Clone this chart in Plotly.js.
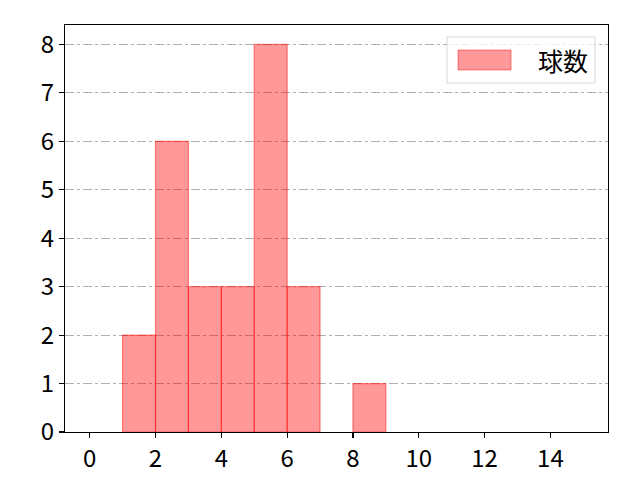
<!DOCTYPE html>
<html>
<head>
<meta charset="utf-8">
<script src="https://cdn.plot.ly/plotly-3.0.1.min.js"></script>
<style>
  html, body { margin: 0; padding: 0; background: #fff; }
  #chart { width: 640px; height: 480px; }
</style>
</head>
<body>
<div id="chart"></div>
<script>
// Histogram of pitch counts: bin left edges (width 1) and counts per bin
const binStarts = [1, 2, 3, 4, 5, 6, 8];
const counts = [2, 6, 3, 3, 8, 3, 1];
const seriesName = "球数";

const xTicks = [0, 2, 4, 6, 8, 10, 12, 14];
const yTicks = [0, 1, 2, 3, 4, 5, 6, 7, 8];

const FONT = "'Noto Sans CJK JP', 'DejaVu Sans', sans-serif";
const BAR_FILL = "rgba(255,0,0,0.4)";
const BAR_EDGE = "rgba(255,0,0,0.45)";

const AXIS_BASE = {
  showline: true,
  linecolor: "#000",
  linewidth: 1.2,
  mirror: true,
  ticks: "outside",
  ticklen: 5,
  tickwidth: 1.2,
  tickcolor: "#000",
  zeroline: false,
  tickfont: { family: FONT, size: 24, color: "#000" },
};

// matplotlib-style legend: wide patch + label, drawn in paper coords
const legendShapes = [
  {
    type: "rect", xref: "paper", yref: "paper",
    x0: 0.7035, x1: 0.976, y0: 0.8575, y1: 0.9705,
    fillcolor: "rgba(255,255,255,0.8)",
    line: { color: "#d6d6d6", width: 1 },
  },
  {
    type: "rect", xref: "paper", yref: "paper",
    x0: 0.7238, x1: 0.8214, y0: 0.8894, y1: 0.9386,
    fillcolor: BAR_FILL,
    line: { color: BAR_EDGE, width: 1 },
  },
];

Plotly.newPlot(
  "chart",
  [
    {
      type: "bar",
      name: seriesName,
      x: binStarts,
      y: counts,
      offset: 0,
      width: 1,
      marker: {
        color: BAR_FILL,
        line: { color: BAR_EDGE, width: 1.2 },
      },
    },
  ],
  {
    width: 640,
    height: 480,
    paper_bgcolor: "#fff",
    plot_bgcolor: "#fff",
    font: { family: FONT, size: 20, color: "#000" },
    margin: { l: 65, r: 32, t: 25, b: 48 },
    showlegend: false,
    shapes: legendShapes,
    annotations: [
      {
        xref: "paper", yref: "paper",
        x: 0.917, y: 0.914,
        xanchor: "center", yanchor: "middle",
        text: seriesName,
        showarrow: false,
        font: { family: FONT, size: 25, color: "#000" },
      },
    ],
    xaxis: {
      ...AXIS_BASE,
      range: [-0.75, 15.75],
      tickvals: xTicks,
      showgrid: false,
    },
    yaxis: {
      ...AXIS_BASE,
      range: [0, 8.4],
      tickvals: yTicks,
      showgrid: true,
      gridcolor: "#b0b0b0",
      gridwidth: 1,
      griddash: "dashdot",
    },
  },
  { displayModeBar: false, staticPlot: true }
);
</script>
</body>
</html>
